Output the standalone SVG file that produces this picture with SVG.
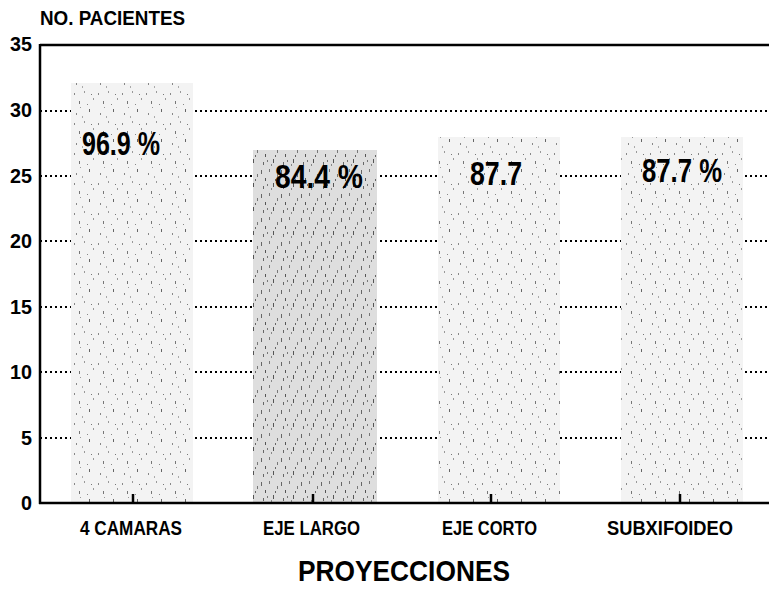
<svg xmlns="http://www.w3.org/2000/svg" width="769" height="589" viewBox="0 0 769 589">
<style>
.grid{stroke:#000;stroke-width:2;stroke-dasharray:2 3;fill:none}
.ax{stroke:#000;stroke-width:2.5;fill:none}
.ytl{font-family:"Liberation Sans",Arial,sans-serif;font-weight:bold;font-size:21px;fill:#000}
.cat{font-family:"Liberation Sans",Arial,sans-serif;font-weight:bold;font-size:20px;fill:#000}
.pct{font-family:"Liberation Sans",Arial,sans-serif;font-weight:bold;font-size:34px;fill:#000}
.bar{fill:url(#stip)}
</style>
<defs>
<pattern id="stip" width="24" height="30" patternUnits="userSpaceOnUse">
<rect width="24" height="30" fill="#f3f3f3"/>
<rect x="2" y="3" width="1" height="2" fill="#888"/>
<rect x="7" y="11" width="1" height="3" fill="#777"/>
<rect x="12" y="1" width="1" height="2" fill="#999"/>
<rect x="17" y="19" width="1" height="3" fill="#666"/>
<rect x="21" y="8" width="1" height="2" fill="#999"/>
<rect x="4" y="23" width="1" height="2" fill="#888"/>
<rect x="10" y="26" width="1" height="2" fill="#aaa"/>
<rect x="15" y="14" width="1" height="1" fill="#888"/>
<rect x="19" y="4" width="1" height="1" fill="#777"/>
<rect x="8" y="17" width="1" height="1" fill="#999"/>
</pattern>
<pattern id="stip2" width="20" height="24" patternUnits="userSpaceOnUse">
<rect width="20" height="24" fill="#dedede"/>
<rect x="1" y="2" width="1" height="4" fill="#666"/>
<rect x="5" y="10" width="1" height="3" fill="#555"/>
<rect x="9" y="1" width="1" height="3" fill="#777"/>
<rect x="13" y="15" width="1" height="4" fill="#555"/>
<rect x="17" y="6" width="1" height="3" fill="#777"/>
<rect x="3" y="18" width="1" height="3" fill="#666"/>
<rect x="11" y="20" width="1" height="2" fill="#888"/>
<rect x="15" y="11" width="1" height="2" fill="#666"/>
<rect x="7" y="16" width="1" height="2" fill="#777"/>
</pattern>
</defs>
<text x="40" y="25" textLength="145" lengthAdjust="spacingAndGlyphs" style="font-family:'Liberation Sans',Arial,sans-serif;font-weight:bold;font-size:20px">NO. PACIENTES</text>
<g id="grid">
<line class="grid" x1="40" y1="111" x2="769" y2="111"/>
<line class="grid" x1="40" y1="176" x2="769" y2="176"/>
<line class="grid" x1="40" y1="241" x2="769" y2="241"/>
<line class="grid" x1="40" y1="307" x2="769" y2="307"/>
<line class="grid" x1="40" y1="372" x2="769" y2="372"/>
<line class="grid" x1="40" y1="438" x2="769" y2="438"/>
</g>
<g id="bars">
<rect id="bar1" class="bar" x="71" y="83" width="122" height="420"/>
<rect id="bar2" x="253" y="150" width="124" height="353" fill="url(#stip2)"/>
<rect id="bar3" class="bar" x="438" y="137" width="122" height="366"/>
<rect id="bar4" class="bar" x="621" y="137" width="122" height="366"/>
</g>
<g id="axes">
<line class="ax" x1="40" y1="45" x2="769" y2="45"/>
<line class="ax" x1="40" y1="44" x2="40" y2="504"/>
<line class="ax" x1="39" y1="503" x2="769" y2="503"/>
<line class="ax" x1="133" y1="494" x2="133" y2="503"/>
<line class="ax" x1="313" y1="494" x2="313" y2="503"/>
<line class="ax" x1="491" y1="494" x2="491" y2="503"/>
<line class="ax" x1="680" y1="494" x2="680" y2="503"/>
</g>
<g id="yticks">
<text class="ytl" x="10" y="51" textLength="22" lengthAdjust="spacingAndGlyphs">35</text>
<text class="ytl" x="10" y="117" textLength="22" lengthAdjust="spacingAndGlyphs">30</text>
<text class="ytl" x="10" y="183" textLength="22" lengthAdjust="spacingAndGlyphs">25</text>
<text class="ytl" x="10" y="248" textLength="22" lengthAdjust="spacingAndGlyphs">20</text>
<text class="ytl" x="10" y="314" textLength="22" lengthAdjust="spacingAndGlyphs">15</text>
<text class="ytl" x="10" y="379" textLength="22" lengthAdjust="spacingAndGlyphs">10</text>
<text class="ytl" x="21" y="445" textLength="11" lengthAdjust="spacingAndGlyphs">5</text>
<text class="ytl" x="21" y="510" textLength="11" lengthAdjust="spacingAndGlyphs">0</text>
</g>
<g id="values">
<text class="pct" x="82" y="155" textLength="78" lengthAdjust="spacingAndGlyphs">96.9 %</text>
<text class="pct" x="275" y="188" textLength="88" lengthAdjust="spacingAndGlyphs">84.4 %</text>
<text class="pct" x="470" y="185" textLength="52" lengthAdjust="spacingAndGlyphs">87.7</text>
<text class="pct" x="642" y="182" textLength="80" lengthAdjust="spacingAndGlyphs">87.7 %</text>
</g>
<g id="categories">
<text class="cat" x="80" y="535" textLength="102" lengthAdjust="spacingAndGlyphs">4 CAMARAS</text>
<text class="cat" x="263" y="535" textLength="97" lengthAdjust="spacingAndGlyphs">EJE LARGO</text>
<text class="cat" x="442" y="535" textLength="95" lengthAdjust="spacingAndGlyphs">EJE CORTO</text>
<text class="cat" x="607" y="535" textLength="126" lengthAdjust="spacingAndGlyphs">SUBXIFOIDEO</text>
</g>
<text x="298" y="581" textLength="212" lengthAdjust="spacingAndGlyphs" style="font-family:'Liberation Sans',Arial,sans-serif;font-weight:bold;font-size:30px">PROYECCIONES</text>
</svg>
